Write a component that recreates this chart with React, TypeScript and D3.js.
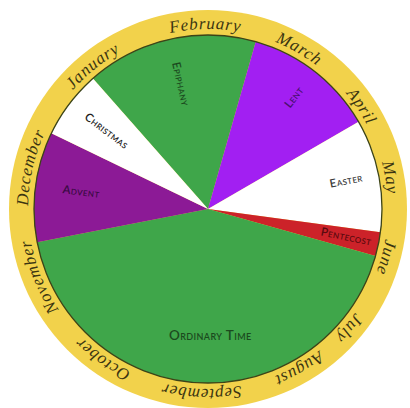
import * as d3 from "d3";

// liturgical seasons, clockwise from the Christmas/Epiphany border
const SEASONS = ["Epiphany", "Lent", "Easter", "Pentecost", "Ordinary Time", "Advent", "Christmas"];
// angular span of each season on the wheel (degrees)
const SPANS = [57.3, 44, 37.7, 8, 153.3, 36.8, 22.8];
const FILLS = ["#3fa64a", "#a21ff2", "#ffffff", "#cc2229", "#3fa64a", "#8c1a96", "#ffffff"];
const INK = ["#1b4a1e", "#4a1070", "#3a3a3a", "#5a0a0f", "#1b4a1e", "#3a0a44", "#1e1e1e"];

const MONTHS = [
  "January", "February", "March", "April", "May", "June",
  "July", "August", "September", "October", "November", "December",
];
// where each month name sits on the ring (degrees clockwise from 12 o'clock)
const MONTH_ANGLES = [321, 359, 29.5, 56, 80, 105, 130, 150, 182, 215, 248, 283];

const W = 410;
const H = 408;
const CX = 208;
const CY = 209;
const R_OUT = 199;
const R_PIE = 174;
const R_TEXT = 180;
const START = 318.6; // Christmas/Epiphany border

const rad = (deg: number) => (deg * Math.PI) / 180;

export default function App() {
  const pie = d3
    .pie<number>()
    .sort(null)
    .value((d) => d)
    .startAngle(rad(START))
    .endAngle(rad(START + 360));
  const arcs = pie(SPANS);
  const arc = d3.arc<d3.PieArcDatum<number>>().innerRadius(0).outerRadius(R_PIE);

  // two full clockwise loops starting at the top, so any month can be centred without wrapping
  const loop = `A ${R_TEXT} ${R_TEXT} 0 0 1 ${CX} ${CY + R_TEXT} A ${R_TEXT} ${R_TEXT} 0 0 1 ${CX} ${CY - R_TEXT}`;
  const ringPath = `M ${CX} ${CY - R_TEXT} ${loop} ${loop}`;

  return (
    <svg
      width={W}
      height={H}
      viewBox={`0 0 ${W} ${H}`}
      style={{ position: "absolute", left: 0, top: 0, background: "#fff" }}
    >
      <defs>
        <path id="month-ring" d={ringPath} />
      </defs>
      <circle cx={CX} cy={CY} r={R_OUT} fill="#f2d24b" />
      <g transform={`translate(${CX},${CY})`}>
        {arcs.map((a, i) => (
          <path key={SEASONS[i]} d={arc(a) || ""} fill={FILLS[i]} />
        ))}
        <circle r={R_PIE} fill="none" stroke="#3c4418" strokeWidth={1.3} />
        {arcs.map((a, i) => {
          const mid = ((a.startAngle + a.endAngle) / 2) * (180 / Math.PI);
          const m = ((mid % 360) + 360) % 360;
          const name = SEASONS[i];
          const wide = name === "Ordinary Time";
          // the big green label sits just under the centre, horizontal
          const ang = wide ? 179 : m;
          const r = wide ? 128 : m > 180 ? 128 : 141;
          const x = r * Math.sin(rad(ang));
          const y = -r * Math.cos(rad(ang));
          const rot = wide ? 0 : m > 180 ? m + 90 : m - 90;
          return (
            <text
              key={name}
              transform={`translate(${x},${y}) rotate(${rot})`}
              textAnchor="middle"
              dominantBaseline="middle"
              fontFamily="Lato, 'Open Sans', sans-serif"
              fontSize={wide ? 13.5 : 11.5}
              fontVariant="small-caps"
              fontWeight={600}
              letterSpacing={0.4}
              fill={INK[i]}
            >
              {name}
            </text>
          );
        })}
      </g>
      <text
        fontFamily="'Liberation Serif', serif"
        fontStyle="italic"
        fontSize={17}
        fill="#3b3511"
        letterSpacing={0.8}
      >
        {MONTHS.map((mo, i) => {
          const ang = MONTH_ANGLES[i] < 180 ? MONTH_ANGLES[i] + 360 : MONTH_ANGLES[i];
          return (
            <textPath key={mo} href="#month-ring" startOffset={rad(ang) * R_TEXT} textAnchor="middle">
              {mo}
            </textPath>
          );
        })}
      </text>
    </svg>
  );
}
